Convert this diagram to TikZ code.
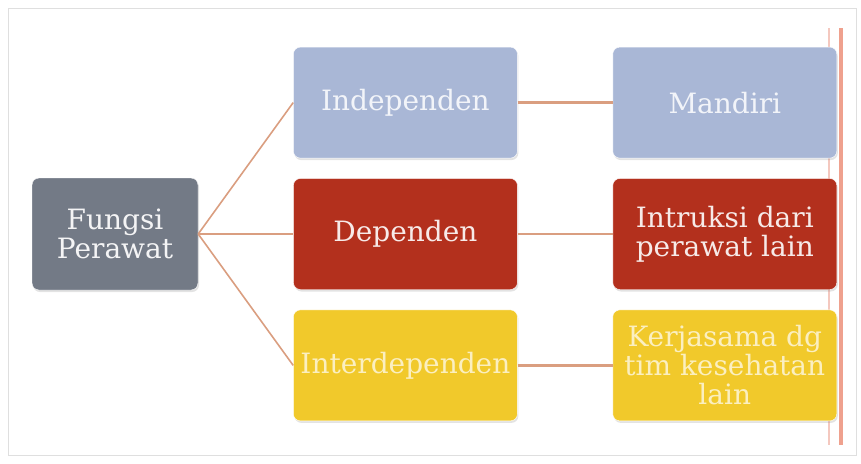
\documentclass[tikz,border=0pt]{standalone}
\usepackage{fontspec}
\setmainfont{DejaVu Serif}
\usepackage{xcolor}
\usetikzlibrary{
    positioning,
    shadows
}
\definecolor{slategray}{HTML}{737A86}
\definecolor{paleblue}{HTML}{A9B7D6}
\definecolor{brickred}{HTML}{B3301D}
\definecolor{sunyellow}{HTML}{F1C92B}
\definecolor{linktan}{HTML}{DA9E80}
\definecolor{railpink}{HTML}{F4C8BF}
\definecolor{railsalmon}{HTML}{EFA18E}
\tikzset{
  box/.style = {
      rectangle,
      rounded corners=7pt,
      draw=white,
      thin,
      drop shadow={opacity=0.22, shadow xshift=1pt, shadow yshift=-2pt},
      align=center,
      inner sep=2pt,
      font=\fontsize{28}{29}\selectfont,
      minimum width=224pt,
      minimum height=111pt
  },
  root/.style = {
      box,
      fill=slategray,
      text=white!92!slategray,
      minimum width=166pt,
      minimum height=112pt
  },
  blue box/.style = {
      box,
      fill=paleblue,
      text=white!85!paleblue
  },
  red box/.style = {
      box,
      fill=brickred,
      text=white!90!brickred
  },
  yellow box/.style = {
      box,
      fill=sunyellow,
      text=white!70!sunyellow
  },
  link/.style = {
      draw=linktan,
      line width=1.6pt
  },
  straight link/.style = {
      link,
      line width=2.4pt
  }
}
\begin{document}
\begin{tikzpicture}[node distance=95pt]
    \useasboundingbox (0,0) rectangle (861pt,-463pt);
    % Frame
    \draw[gray!25, line width=1pt] (8pt,-8pt) rectangle (856pt,-455pt);
    \draw[railpink, line width=1.2pt] (829pt,-28pt) -- (829pt,-445pt);
    \draw[railsalmon, line width=4pt] (841pt,-28pt) -- (841pt,-445pt);
    % Nodes
    \node[root] (fungsi) at (115pt,-234pt) {Fungsi\\Perawat};
    \node[red box, right=of fungsi] (dep) {Dependen};
    \node[blue box, above=20pt of dep] (indep) {Independen};
    \node[yellow box, below=20pt of dep] (inter) {Interdependen};
    \node[blue box, right=of indep] (mandiri) {Mandiri};
    \node[red box, right=of dep] (instruksi) {Intruksi dari\\perawat lain};
    \node[yellow box, right=of inter] (kerjasama) {Kerjasama dg\\tim kesehatan\\lain};
    % Edges
    \path[link]
    (fungsi.east) edge (indep.west)
    (fungsi.east) edge (inter.west);
    \path[straight link]
    (fungsi.east) edge (dep.west)
    (indep) edge (mandiri)
    (dep) edge (instruksi)
    (inter) edge (kerjasama);
\end{tikzpicture}
\end{document}
